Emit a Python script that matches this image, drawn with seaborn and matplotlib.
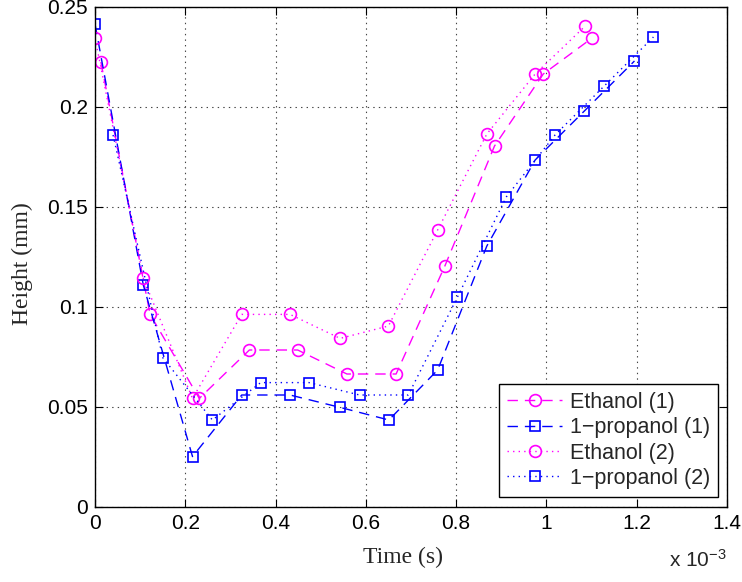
import numpy as np
import pandas as pd
import seaborn as sns
import matplotlib.pyplot as plt

# time values are in units of 1e-3 s (axis shows "x 10^-3")
eth1_t = [0.013, 0.122, 0.231, 0.342, 0.449, 0.558, 0.667, 0.775, 0.885, 0.993, 1.100]
eth1_h = [0.2225, 0.0963, 0.0543, 0.0785, 0.0785, 0.0665, 0.0665, 0.1205, 0.1805, 0.2165, 0.2343]
prop1_t = [0.000, 0.107, 0.216, 0.325, 0.432, 0.543, 0.651, 0.759, 0.868, 0.975, 1.084, 1.195]
prop1_h = [0.2415, 0.111, 0.0252, 0.056, 0.056, 0.0498, 0.0435, 0.0685, 0.1305, 0.1735, 0.198, 0.223]
eth2_t = [0.000, 0.107, 0.216, 0.325, 0.432, 0.543, 0.650, 0.759, 0.868, 0.975, 1.086]
eth2_h = [0.2345, 0.1143, 0.0543, 0.0963, 0.0963, 0.0843, 0.0905, 0.1385, 0.1865, 0.2165, 0.2405]
prop2_t = [0.040, 0.150, 0.260, 0.367, 0.474, 0.586, 0.694, 0.803, 0.911, 1.019, 1.128, 1.237]
prop2_h = [0.186, 0.0747, 0.0435, 0.0622, 0.0622, 0.056, 0.056, 0.105, 0.155, 0.186, 0.2105, 0.235]

labels = ["Ethanol (1)", "1\u2212propanol (1)", "Ethanol (2)", "1\u2212propanol (2)"]
x_ticks = [0, 0.2, 0.4, 0.6, 0.8, 1.0, 1.2, 1.4]
x_ticklabels = ["0", "0.2", "0.4", "0.6", "0.8", "1", "1.2", "1.4"]
y_ticks = [0, 0.05, 0.1, 0.15, 0.2, 0.25]
y_ticklabels = ["0", "0.05", "0.1", "0.15", "0.2", "0.25"]

sns.set_style("ticks")
plt.rcParams["font.family"] = ["Liberation Sans", "DejaVu Sans"]
plt.rcParams["lines.scale_dashes"] = False
plt.rcParams["mathtext.fontset"] = "custom"
plt.rcParams["mathtext.rm"] = "Liberation Sans"
plt.rcParams["mathtext.it"] = "Liberation Sans"

MAG = "#ff00ff"
BLUE = "#0000ff"
DASH = (0, (7.5, 5))
DOT = (0, (1, 3))

fig = plt.figure(figsize=(7.42, 5.82), dpi=100)
ax = fig.add_axes([95 / 742, 1 - 507 / 582, 632 / 742, 500 / 582])

series = [
    (eth1_t, eth1_h, labels[0], MAG, "o", 8.5, DASH),
    (prop1_t, prop1_h, labels[1], BLUE, "s", 7, DASH),
    (eth2_t, eth2_h, labels[2], MAG, "o", 8.5, DOT),
    (prop2_t, prop2_h, labels[3], BLUE, "s", 7, DOT),
]
for t, h, lab, col, mk, ms, ls in series:
    df = pd.DataFrame({"t": t, "h": h})
    sns.lineplot(data=df, x="t", y="h", ax=ax, color=col, marker=mk, markersize=ms,
                 mfc="none", mec=col, mew=1.2, linestyle=ls, linewidth=1.0,
                 label=lab, sort=False, estimator=None)

ax.set_xlim(0, 1.4)
ax.set_ylim(0, 0.25)
ax.set_xticks(x_ticks)
ax.set_xticklabels(x_ticklabels)
ax.set_yticks(y_ticks)
ax.set_yticklabels(y_ticklabels)
ax.tick_params(direction="in", length=6, width=0.8, top=True, right=True,
               labelsize=15, colors="black", pad=5)
for sp in ax.spines.values():
    sp.set_visible(True)
    sp.set_color("black")
    sp.set_linewidth(1.0)
ax.grid(True, linestyle=DOT, color="#444444", linewidth=0.8)

ax.set_xlabel("Time (s)", family=["Liberation Serif"], fontsize=17)
ax.set_ylabel("Height (mm)", family=["Liberation Serif"], fontsize=17)
ax.xaxis.set_label_coords(0.487, -0.08)
ax.yaxis.set_label_coords(-0.098, 0.487)
fig.text(727 / 742, 1 - 567 / 582, "x 10$^{-3}$", ha="right", va="baseline", fontsize=15)

leg = ax.legend(loc="lower right", bbox_to_anchor=(0.986, 0.02), borderaxespad=0,
                fancybox=False, framealpha=1, edgecolor="black", fontsize=15.5,
                handlelength=2.55, handletextpad=0.36, labelspacing=0.2,
                borderpad=0.38, numpoints=1)
leg.get_frame().set_linewidth(1.0)

fig.savefig("out.png", dpi=100)
